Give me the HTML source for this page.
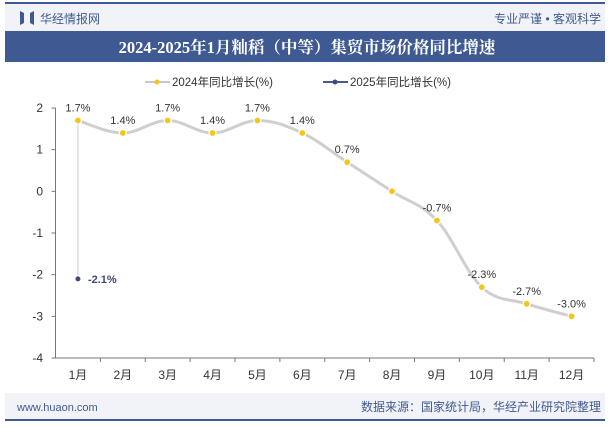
<!DOCTYPE html>
<html><head><meta charset="utf-8"><style>
body{margin:0;width:615px;height:427px;background:#fff;overflow:hidden;font-family:"Liberation Sans","Noto Sans CJK SC",sans-serif}
svg{display:block}
</style></head><body>
<svg width="615" height="427">
<rect x="5" y="4" width="600" height="27" fill="#f1f3f8"/>
<line x1="5" y1="3" x2="605" y2="3" stroke="#3f5a93" stroke-width="2"/>
<path d="M20,11 l4,2 v10 l-4,2z M30,13 l4,-2 v14 l-4,-2z" fill="#3f5a93"/>
<text x="40" y="23" font-size="12" fill="#3f5a93">华经情报网</text>
<text x="601" y="23" font-size="12" fill="#3f5a93" text-anchor="end">专业严谨 • 客观科学</text>
<rect x="5" y="31" width="600" height="31" fill="#3f5a93"/>
<text x="307" y="53" font-size="16.5" font-weight="bold" fill="#fff" text-anchor="middle" font-family="'Liberation Serif','Noto Serif CJK SC',serif">2024-2025年1月籼稻（中等）集贸市场价格同比增速</text>
<g>
<line x1="145" y1="82" x2="170" y2="82" stroke="#c8c8c8" stroke-width="2"/><circle cx="157" cy="82" r="2.5" fill="#f5c518"/>
<text x="172" y="86" font-size="11.5" fill="#333">2024年同比增长(%)</text>
<line x1="323" y1="82" x2="348" y2="82" stroke="#4a5a8a" stroke-width="2"/><circle cx="335" cy="82" r="2.5" fill="#3f4a7a"/>
<text x="350" y="86" font-size="11.5" fill="#333">2025年同比增长(%)</text>
</g>
<g id="plot"></g>
<rect x="5" y="393" width="600" height="26" fill="#f1f3f8"/>
<line x1="5" y1="420" x2="605" y2="420" stroke="#3f5a93" stroke-width="2"/>
<text x="17" y="411" font-size="11" fill="#3f5a93">www.huaon.com</text>
<text x="601" y="411" font-size="12" fill="#3f5a93" text-anchor="end">数据来源：国家统计局，华经产业研究院整理</text>
</svg>
<script>
const categories=["1月","2月","3月","4月","5月","6月","7月","8月","9月","10月","11月","12月"];
const series2024=[1.7,1.4,1.7,1.4,1.7,1.4,0.7,0,-0.7,-2.3,-2.7,-3.0];
const series2025=[-2.1];
const yTicks=[2,1,0,-1,-2,-3,-4];
const NS="http://www.w3.org/2000/svg";
const g=document.getElementById('plot');
const x0=55.5,x1=594,yTop=108,yBot=358,vMax=2,vMin=-4;
const bw=(x1-x0)/categories.length;
const X=i=>x0+bw*(i+0.5);
const Y=v=>yTop+(vMax-v)/(vMax-vMin)*(yBot-yTop);
function mk(t,a){const e=document.createElementNS(NS,t);for(const k in a)e.setAttribute(k,a[k]);g.appendChild(e);return e;}
let e=mk('line',{x1:x0,y1:yTop,x2:x0,y2:yBot,stroke:'#777'});


e=mk('line',{x1:x0,y1:yBot,x2:x1,y2:yBot,stroke:'#777'});


yTicks.forEach(v=>{
  mk('line',{x1:x0-4,y1:Y(v),x2:x0,y2:Y(v),stroke:'#777'});
  const t=mk('text',{x:43,y:Y(v)+4,'font-size':12,fill:'#333','text-anchor':'end'});t.textContent=v;
  
  
});
categories.forEach((c,i)=>{
  mk('line',{x1:x0+bw*(i+1),y1:yBot,x2:x0+bw*(i+1),y2:yBot+4,stroke:'#777'});
  const t=mk('text',{x:X(i),y:yBot+21,'font-size':12,fill:'#333','text-anchor':'middle'});t.textContent=c;
  
  
});
const pts=series2024.map((v,i)=>[X(i),Y(v)]);
let d='M'+pts[0][0]+','+pts[0][1];
for(let i=0;i<pts.length-1;i++){
  const p0=pts[i-1]||pts[i],p1=pts[i],p2=pts[i+1],p3=pts[i+2]||p2,k=0.18;
  d+=` C${p1[0]+(p2[0]-p0[0])*k},${p1[1]+(p2[1]-p0[1])*k} ${p2[0]-(p3[0]-p1[0])*k},${p2[1]-(p3[1]-p1[1])*k} ${p2[0]},${p2[1]}`;
}
e=mk('path',{d:d,fill:'none',stroke:'#cfcfcf','stroke-width':3});


e=mk('line',{x1:X(0),y1:Y(series2024[0]),x2:X(0),y2:Y(series2025[0]),stroke:'#c8c8d8','stroke-width':1});


series2024.forEach((v,i)=>{
  const c=mk('circle',{cx:X(i),cy:Y(v),r:3.5,fill:'#f5c518',stroke:'#fff','stroke-width':1.2});
  
  
  if(v!==0){
    const t=mk('text',{x:X(i),y:Y(v)-9,'font-size':11,fill:'#333','text-anchor':'middle'});t.textContent=v.toFixed(1)+'%';
    
    
  }
});
series2025.forEach((v,i)=>{
  const c=mk('circle',{cx:X(i),cy:Y(v),r:3,fill:'#3f4a7a',stroke:'#fff','stroke-width':1});
  
  
  const t=mk('text',{x:X(i)+10,y:Y(v)+4,'font-size':11,'font-weight':'bold',fill:'#3f4a7a'});t.textContent=v.toFixed(1)+'%';
  
  
});
</script>
</body></html>
